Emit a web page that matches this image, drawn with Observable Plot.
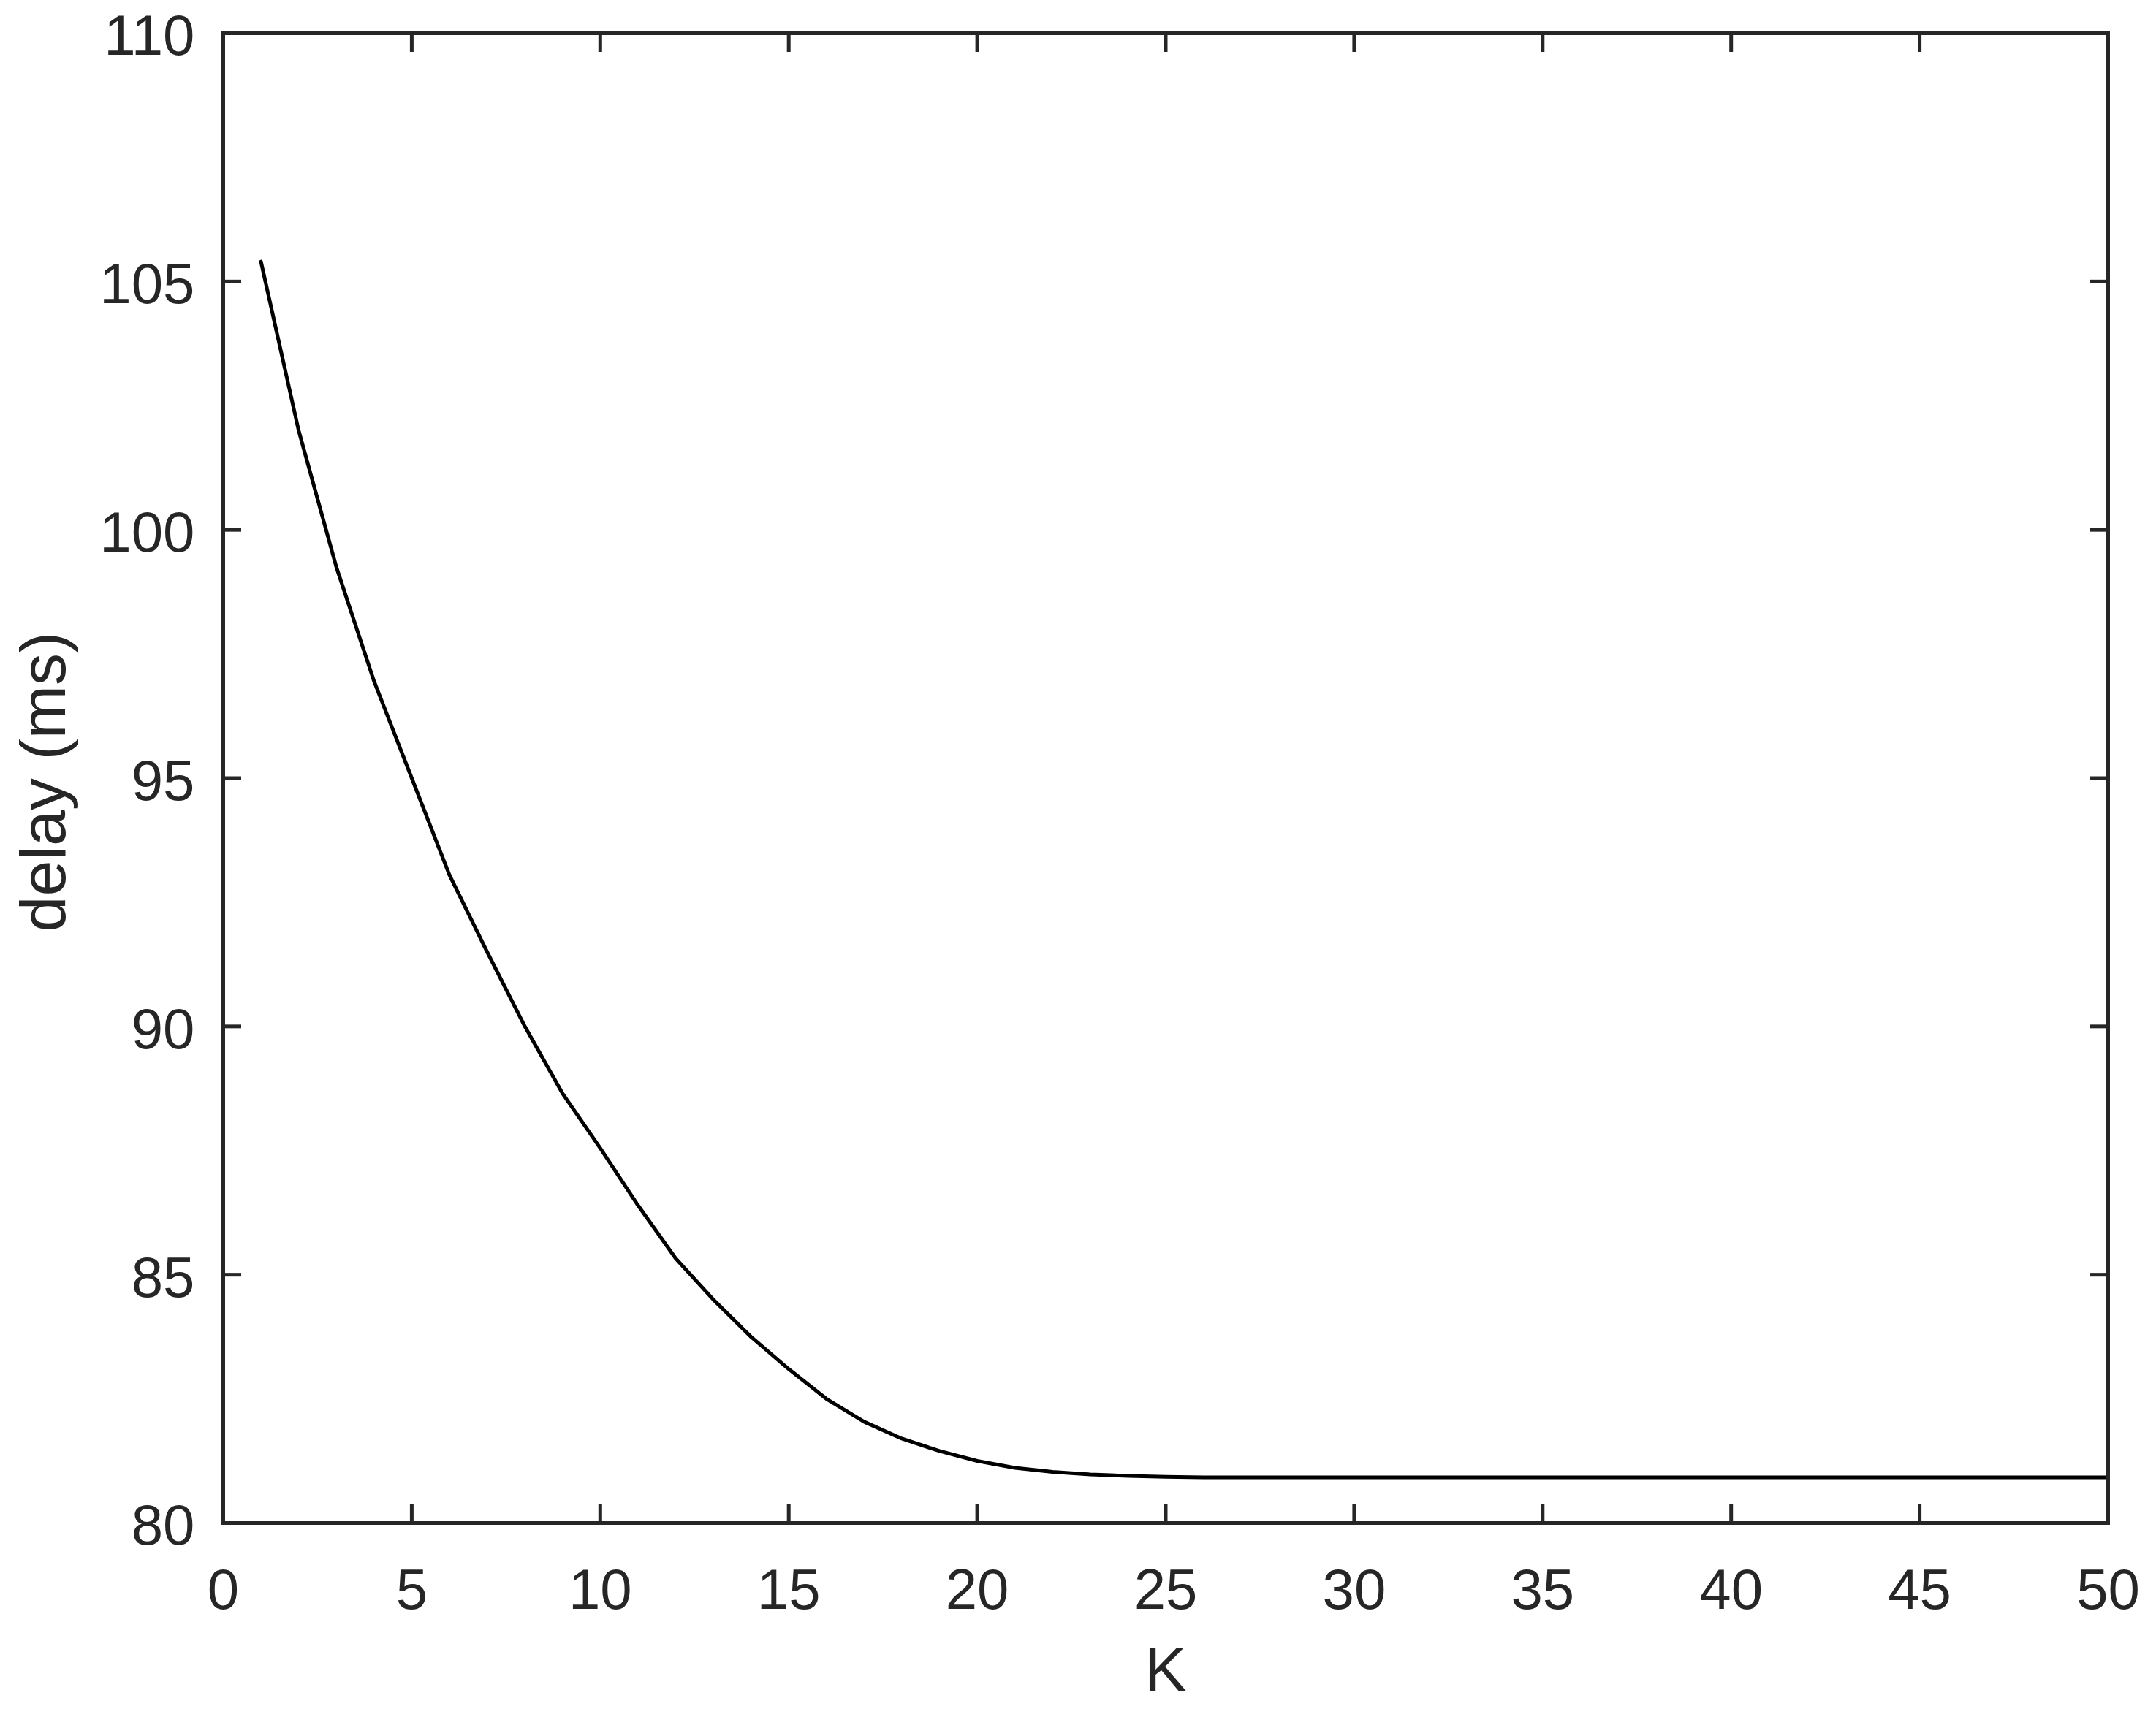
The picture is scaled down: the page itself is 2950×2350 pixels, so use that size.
<!DOCTYPE html>
<html>
<head>
<meta charset="utf-8">
<script src="https://cdn.jsdelivr.net/npm/d3@7"></script>
<script src="https://cdn.jsdelivr.net/npm/@observablehq/plot@0.6"></script>
<style>
  html, body { margin: 0; padding: 0; background: #ffffff; }
  #chart { width: 2950px; height: 2350px; }
</style>
</head>
<body>
<div id="chart"></div>
<script>
const kValues = [1,2,3,4,5,6,7,8,9,10,11,12,13,14,15,16,17,18,19,20,21,22,23,24,25,26,27,28,29,30,31,32,33,34,35,36,37,38,39,40,41,42,43,44,45,46,47,48,49,50];
const delayValues = [105.4,102.0,99.25,96.95,95.0,93.05,91.5,90.0,88.65,87.55,86.4,85.33,84.5,83.75,83.1,82.5,82.04,81.7,81.45,81.25,81.11,81.03,80.98,80.95,80.93,80.92,80.92,80.92,80.92,80.92,80.92,80.92,80.92,80.92,80.92,80.92,80.92,80.92,80.92,80.92,80.92,80.92,80.92,80.92,80.92,80.92,80.92,80.92,80.92,80.92];
const xTicks = [0,5,10,15,20,25,30,35,40,45,50];
const yTicks = [80,85,90,95,100,105,110];
const xLabel = "K";
const yLabel = "delay (ms)";

const data = kValues.map((k, i) => ({k, delay: delayValues[i]}));
const axisColor = "#262626";
const fmt = d => String(d);

const chart = Plot.plot({
  width: 2950,
  height: 2350,
  marginLeft: 305,
  marginRight: 66,
  marginTop: 45,
  marginBottom: 266,
  style: {fontFamily: "'Liberation Sans', Arial, Helvetica, sans-serif", background: "#ffffff", color: axisColor},
  x: {domain: [0, 50]},
  y: {domain: [80, 110]},
  marks: [
    Plot.line(data, {x: "k", y: "delay", stroke: "#000000", strokeWidth: 5}),
    Plot.frame({stroke: axisColor, strokeWidth: 5}),
    // tick labels
    Plot.axisX(xTicks, {anchor: "bottom", tickSize: 0, tickPadding: 62, fontSize: 78, fill: axisColor, tickFormat: fmt, label: null}),
    Plot.axisY(yTicks, {anchor: "left", tickSize: 0, tickPadding: 39, fontSize: 78, fill: axisColor, tickFormat: fmt, dy: 5, label: null}),
    // inward ticks on all four sides
    Plot.axisX(xTicks, {anchor: "bottom", tickSize: 25, dy: -25, text: null, label: null, stroke: axisColor, strokeWidth: 5}),
    Plot.axisX(xTicks, {anchor: "top", tickSize: 25, dy: 25, text: null, label: null, stroke: axisColor, strokeWidth: 5}),
    Plot.axisY(yTicks, {anchor: "left", tickSize: 25, dx: 25, text: null, label: null, stroke: axisColor, strokeWidth: 5}),
    Plot.axisY(yTicks, {anchor: "right", tickSize: 25, dx: -25, text: null, label: null, stroke: axisColor, strokeWidth: 5}),
    // axis titles
    Plot.text([xLabel], {frameAnchor: "bottom", text: d => d, textAnchor: "middle", dy: 168, lineAnchor: "top", fontSize: 88, fill: axisColor}),
    Plot.text([yLabel], {frameAnchor: "left", text: d => d, textAnchor: "middle", lineAnchor: "middle", rotate: -90, dx: -245, dy: 5, fontSize: 88, fill: axisColor})
  ]
});
document.getElementById("chart").appendChild(chart);
</script>
</body>
</html>
